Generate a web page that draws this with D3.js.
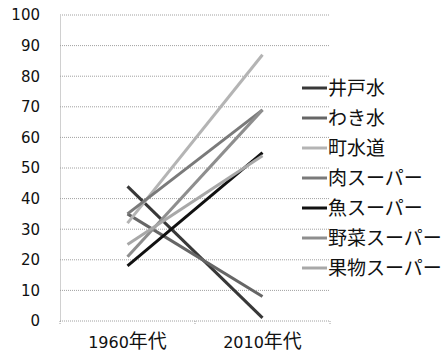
<!DOCTYPE html>
<html>
<head>
<meta charset="utf-8">
<script src="https://cdn.jsdelivr.net/npm/d3@7"></script>
<style>
    body { margin: 0; background: #fff; }
    text { font-family: "DejaVu Sans", "Noto Sans CJK JP", sans-serif; fill: #111; }
    .cjk { font-family: "Noto Sans CJK JP", sans-serif; }
</style>
</head>
<body>
<div id="chart"></div>
<script>
const categories = ['1960年代', '2010年代'];
const seriesNames = ['井戸水', 'わき水', '町水道', '肉スーパー', '魚スーパー', '野菜スーパー', '果物スーパー'];
const values1960 = [44, 35, 32, 35, 18, 21, 25];
const values2010 = [1, 8, 87, 69, 55, 69, 54];
const seriesColors = ['#383838', '#666666', '#b4b4b4', '#7a7a7a', '#111111', '#8e8e8e', '#a8a8a8'];
const yTicks = [0, 10, 20, 30, 40, 50, 60, 70, 80, 90, 100];

const svgWidth = 443;
const svgHeight = 355;

const margin = { top: 15, left: 60, right: 113, bottom: 34 };

const width = svgWidth - margin.left - margin.right;
const height = svgHeight - margin.top - margin.bottom;

const svg = d3.select('#chart').append('svg')
    .attr('width', svgWidth)
    .attr('height', svgHeight);

const chart = svg.append('g')
    .attr('transform', `translate(${margin.left},${margin.top})`);

const x = d3.scaleBand()
    .domain(categories)
    .range([0, width]);

const y = d3.scaleLinear()
    .domain([0, 100])
    .range([height, 0]);

// Grid lines
chart.selectAll('line.grid')
    .data(yTicks)
    .enter()
    .append('line')
    .attr('class', 'grid')
    .attr('x1', 0)
    .attr('x2', width)
    .attr('y1', d => y(d))
    .attr('y2', d => y(d))
    .attr('stroke', '#a0a0a0')
    .attr('stroke-width', 1)
    .attr('stroke-dasharray', '1,1');

// Y axis
const yAxis = chart.append('g')
    .call(d3.axisLeft(y).tickValues(yTicks).tickSize(0).tickPadding(20));
yAxis.select('.domain')
    .attr('stroke', '#a0a0a0')
    .attr('stroke-dasharray', '1,1');
yAxis.selectAll('text')
    .style('font-size', '15px');

// X axis, digits and kanji split so the kanji can be a bit bigger
const xAxis = chart.append('g')
    .attr('transform', `translate(0,${height})`)
    .call(d3.axisBottom(x).tickSize(0).tickPadding(16));
xAxis.select('.domain').remove();
xAxis.selectAll('text')
    .style('font-size', '16px')
    .text(null)
    .each(function(d) {
        const t = d3.select(this);
        t.append('tspan').text(d.slice(0, 4));
        t.append('tspan').attr('class', 'cjk').style('font-size', '19px').text(d.slice(4));
    });

chart.selectAll('line.xtick')
    .data([0, x.bandwidth(), width])
    .enter()
    .append('line')
    .attr('x1', d => d)
    .attr('x2', d => d)
    .attr('y1', height)
    .attr('y2', height + 4)
    .attr('stroke', '#a0a0a0')
    .attr('stroke-dasharray', '1,1');

// Lines
const data = seriesNames.map((name, i) => ({
    name: name,
    color: seriesColors[i],
    points: [values1960[i], values2010[i]]
}));

const line = d3.line()
    .x((d, i) => x(categories[i]) + x.bandwidth() / 2)
    .y(d => y(d));

chart.selectAll('path.series')
    .data(data)
    .enter()
    .append('path')
    .attr('class', 'series')
    .attr('fill', 'none')
    .attr('stroke', d => d.color)
    .attr('stroke-width', 3)
    .attr('d', d => line(d.points));

// Legend
const legend = svg.selectAll('g.legend')
    .data(data)
    .enter()
    .append('g')
    .attr('class', 'legend')
    .attr('transform', (d, i) => `translate(302,${88 + i * 30})`);

legend.append('line')
    .attr('x1', 0)
    .attr('x2', 25)
    .attr('stroke', d => d.color)
    .attr('stroke-width', 3);

legend.append('text')
    .attr('class', 'cjk')
    .attr('x', 26)
    .attr('dy', '0.36em')
    .style('font-size', '19px')
    .text(d => d.name);
</script>
</body>
</html>
